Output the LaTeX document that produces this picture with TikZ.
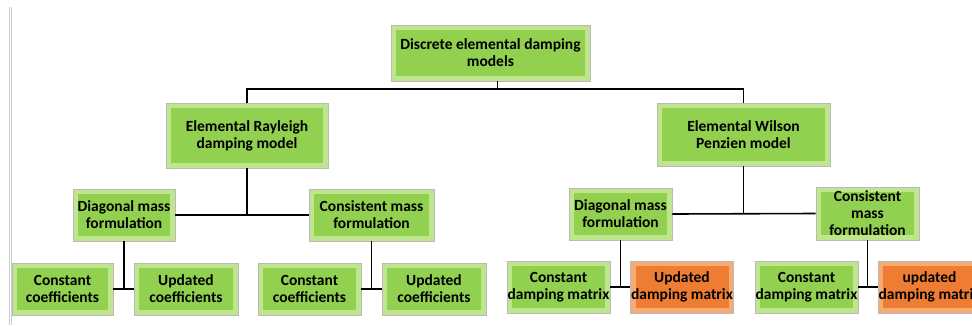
\documentclass[tikz,border=0pt]{standalone}
\usepackage{fontspec}
\setmainfont{Carlito}
\definecolor{greenface}{HTML}{92D050}
\definecolor{greenedge}{HTML}{BFE58F}
\definecolor{orangeface}{HTML}{EE7D33}
\definecolor{orangeedge}{HTML}{F6AB72}

\begin{document}
\begin{tikzpicture}[x=1pt, y=-1pt,
	box/.style={draw=gray!55, line width=0.6pt, fill=greenedge, align=center, inner sep=0pt,
		font=\bfseries\fontsize{15.5}{17}\selectfont,
		path picture={\fill[greenface] ([shift={(5pt,-5pt)}]path picture bounding box.north west) rectangle ([shift={(-5pt,5pt)}]path picture bounding box.south east);}},
	hotbox/.style={box, fill=orangeedge,
		path picture={\fill[orangeface] ([shift={(5pt,-5pt)}]path picture bounding box.north west) rectangle ([shift={(-5pt,5pt)}]path picture bounding box.south east);}},
	link/.style={line width=1.6pt, black}]
		\clip (0,0) rectangle (972,325);
		\fill[white] (0,0) rectangle (972,325);
		\draw[gray!40, line width=0.5pt] (9.5,7) -- (9.5,325);
		\draw[gray!40, line width=0.5pt] (11.5,7) -- (11.5,325);
		
		\node[box, minimum width=199pt, minimum height=56pt] (top) at (490.5,53) {Discrete elemental damping\\models};
		\node[box, minimum width=162pt, minimum height=65pt] (ray) at (247,135.5) {Elemental Rayleigh\\damping model};
		\node[box, minimum width=173pt, minimum height=63pt] (wil) at (743.5,134.5) {Elemental Wilson\\Penzien model};
		
		\node[box, minimum width=102pt, minimum height=52pt] (diagL) at (124,215) {Diagonal mass\\formulation};
		\node[box, minimum width=125pt, minimum height=52pt] (consL) at (371.5,215) {Consistent mass\\formulation};
		\node[box, minimum width=103pt, minimum height=52pt] (diagR) at (620.5,214) {Diagonal mass\\formulation};
		\node[box, minimum width=103pt, minimum height=53pt] (consR) at (867.5,213.5) {Consistent\\mass\\formulation};
		
		\node[box, minimum width=101pt, minimum height=52pt] (constA) at (62.5,289) {Constant\\coefficients};
		\node[box, minimum width=104pt, minimum height=52pt] (updA) at (186,289) {Updated\\coefficients};
		\node[box, minimum width=103pt, minimum height=52pt] (constB) at (309.5,289) {Constant\\coefficients};
		\node[box, minimum width=104pt, minimum height=52pt] (updB) at (434,289) {Updated\\coefficients};
		\node[box, minimum width=103pt, minimum height=52pt] (constC) at (558.5,287) {Constant\\damping matrix};
		\node[hotbox, minimum width=103pt, minimum height=52pt] (updC) at (682,287) {Updated\\damping matrix};
		\node[box, minimum width=103pt, minimum height=52pt] (constD) at (806.5,287) {Constant\\damping matrix};
		\node[hotbox, minimum width=103pt, minimum height=52pt] (updD) at (929.5,287) {updated\\damping matrix};
		
		\draw[link] ([xshift=7pt]top.south) -- ++(0,8);
		\draw[link] (ray.north) -- ++(0,-14) -| (wil.north);
		
		\draw[link] (diagL.east) -- (consL.west);
		\draw[link] (ray.south) -- (ray.south |- diagL.east);
		\draw[link] (diagR.east) -- (consR.west);
		\draw[link] (wil.south) -- (wil.south |- diagR.east);
		
		\draw[link] (constA.east) -- (updA.west);
		\draw[link] (diagL.south) -- (diagL.south |- constA.east);
		\draw[link] (constB.east) -- (updB.west);
		\draw[link] (consL.south) -- (consL.south |- constB.east);
		\draw[link] (constC.east) -- (updC.west);
		\draw[link] (diagR.south) -- (diagR.south |- constC.east);
		\draw[link] (constD.east) -- (updD.west);
		\draw[link] (consR.south) -- (consR.south |- constD.east);
		
	\end{tikzpicture}
\end{document}
